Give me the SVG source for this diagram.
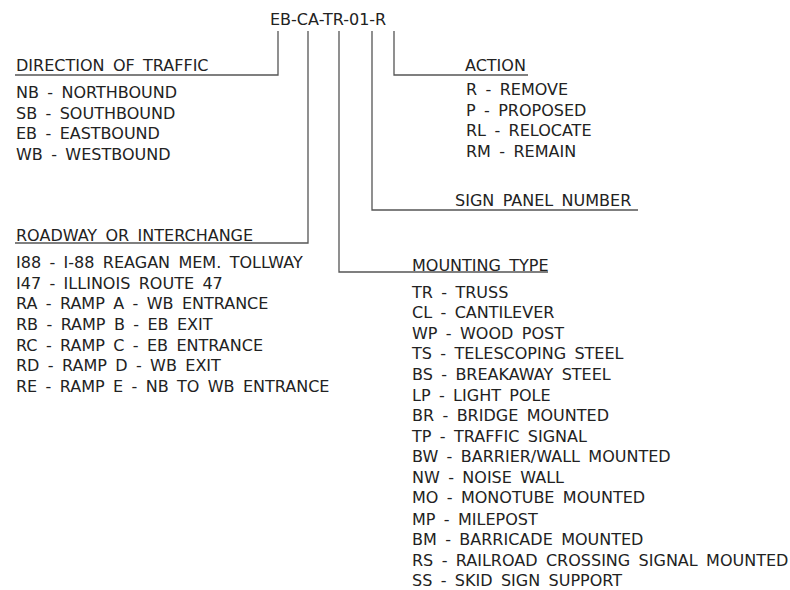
<svg xmlns="http://www.w3.org/2000/svg" width="790" height="590" viewBox="0 0 790 590">
<style>
text{font-family:"DejaVu Sans",Verdana,sans-serif;font-size:16px;fill:#222;word-spacing:3.3px}
.ln{fill:none;stroke:#555;stroke-width:1.3}
</style>
<rect width="790" height="590" fill="#fff"/>
<g id="connectors">
<path class="ln" d="M278 31V75H15"/>
<path class="ln" d="M308 31V243H15"/>
<path class="ln" d="M339 31V272H548"/>
<path class="ln" d="M372 31V210H638"/>
<path class="ln" d="M394 31V75H528"/>
</g>
<g id="code"><text x="270" y="25">EB-CA-TR-01-R</text></g>
<g id="direction">
<text x="16" y="71">DIRECTION OF TRAFFIC</text>
<text x="16" y="97.5">NB - NORTHBOUND</text>
<text x="16" y="118.5">SB - SOUTHBOUND</text>
<text x="16" y="138.5">EB - EASTBOUND</text>
<text x="16" y="159.5">WB - WESTBOUND</text>
</g>
<g id="action">
<text x="465" y="71">ACTION</text>
<text x="466" y="94.5">R - REMOVE</text>
<text x="466" y="115.5">P - PROPOSED</text>
<text x="466" y="135.5">RL - RELOCATE</text>
<text x="466" y="156.5">RM - REMAIN</text>
</g>
<g id="panel"><text x="455" y="205.5">SIGN PANEL NUMBER</text></g>
<g id="roadway">
<text x="16" y="240.5">ROADWAY OR INTERCHANGE</text>
<text x="16" y="267.5">I88 - I-88 REAGAN MEM. TOLLWAY</text>
<text x="16" y="288.5">I47 - ILLINOIS ROUTE 47</text>
<text x="16" y="308.5">RA - RAMP A - WB ENTRANCE</text>
<text x="16" y="329.5">RB - RAMP B - EB EXIT</text>
<text x="16" y="350.5">RC - RAMP C - EB ENTRANCE</text>
<text x="16" y="370.5">RD - RAMP D - WB EXIT</text>
<text x="16" y="391.5">RE - RAMP E - NB TO WB ENTRANCE</text>
</g>
<g id="mounting">
<text x="412" y="270.5">MOUNTING TYPE</text>
<text x="412" y="297.5">TR - TRUSS</text>
<text x="412" y="317.5">CL - CANTILEVER</text>
<text x="412" y="338.5">WP - WOOD POST</text>
<text x="412" y="358.5">TS - TELESCOPING STEEL</text>
<text x="412" y="379.5">BS - BREAKAWAY STEEL</text>
<text x="412" y="400.5">LP - LIGHT POLE</text>
<text x="412" y="420.5">BR - BRIDGE MOUNTED</text>
<text x="412" y="441.5">TP - TRAFFIC SIGNAL</text>
<text x="412" y="461.5">BW - BARRIER/WALL MOUNTED</text>
<text x="412" y="482.5">NW - NOISE WALL</text>
<text x="412" y="502.5">MO - MONOTUBE MOUNTED</text>
<text x="412" y="524.5">MP - MILEPOST</text>
<text x="412" y="544.5">BM - BARRICADE MOUNTED</text>
<text x="412" y="565.5">RS - RAILROAD CROSSING SIGNAL MOUNTED</text>
<text x="412" y="585.5">SS - SKID SIGN SUPPORT</text>
</g>
</svg>
